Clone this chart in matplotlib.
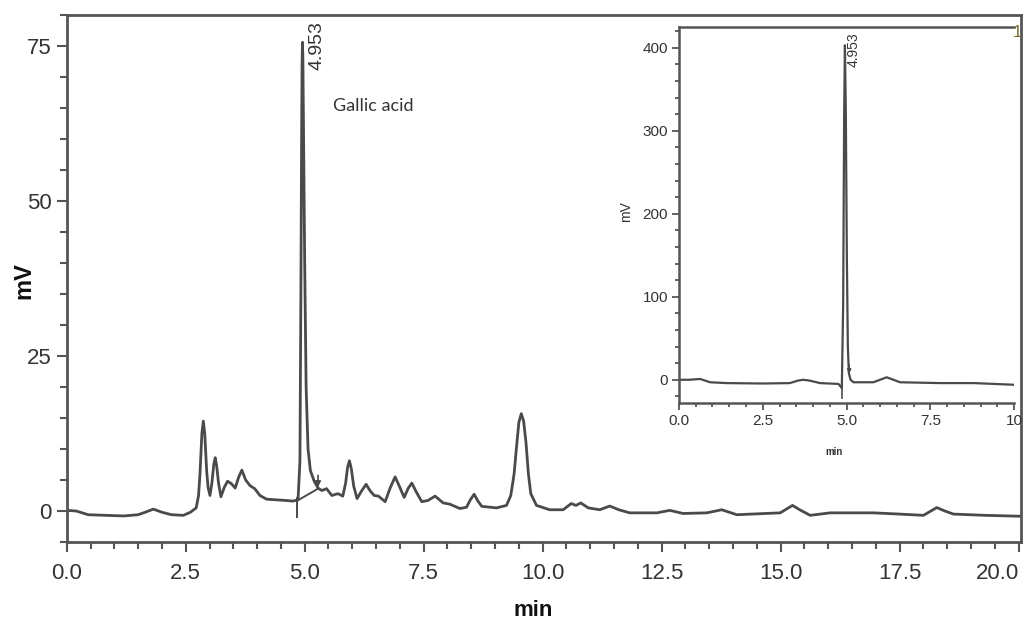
import matplotlib
matplotlib.use('Agg')
import matplotlib.pyplot as plt
from matplotlib.ticker import MultipleLocator

plt.rcParams['font.family'] = ['Liberation Sans', 'DejaVu Sans']

# main chromatogram (min, mV)
time_min = [0.00, 0.20, 0.45, 0.80, 1.20, 1.50, 1.65, 1.82, 2.00, 2.20, 2.45, 2.60, 2.72, 2.77,
            2.80, 2.84, 2.87, 2.90, 2.94, 2.97, 3.01, 3.05, 3.09, 3.12, 3.15, 3.19, 3.24, 3.31,
            3.38, 3.46, 3.54, 3.61, 3.68, 3.76, 3.85, 3.95, 4.06, 4.20, 4.40, 4.60, 4.75, 4.86,
            4.90, 4.92, 4.935, 4.945, 4.953, 4.962, 4.975, 5.00, 5.03, 5.07, 5.12, 5.20, 5.28,
            5.36, 5.46, 5.57, 5.70, 5.80, 5.86, 5.90, 5.94, 5.98, 6.03, 6.10, 6.20, 6.29, 6.38,
            6.46, 6.55, 6.69, 6.80, 6.90, 7.00, 7.09, 7.17, 7.25, 7.35, 7.46, 7.59, 7.74, 7.91,
            8.05, 8.26, 8.40, 8.48, 8.56, 8.64, 8.72, 9.03, 9.24, 9.33, 9.40, 9.45, 9.50, 9.55,
            9.60, 9.65, 9.70, 9.75, 9.87, 10.15, 10.43, 10.60, 10.70, 10.80, 10.96, 11.20,
            11.41, 11.60, 11.83, 12.40, 12.67, 12.95, 13.45, 13.76, 14.08, 14.99, 15.25, 15.40,
            15.62, 16.04, 16.95, 17.50, 18.00, 18.28, 18.45, 18.63, 19.30, 20.05]
signal_mv = [0.1, 0.0, -0.6, -0.7, -0.8, -0.6, -0.2, 0.3, -0.2, -0.6, -0.7, -0.2, 0.5, 2.5,
             6.0, 12.5, 14.5, 12.5, 6.5, 3.8, 2.5, 4.5, 7.5, 8.6, 7.3, 4.5, 2.3, 3.8,
             4.8, 4.4, 3.7, 5.4, 6.6, 5.0, 4.1, 3.6, 2.5, 1.9, 1.8, 1.7, 1.6, 1.8,
             8.0, 35.0, 60.0, 72.0, 75.6, 73.0, 62.0, 40.0, 20.0, 10.0, 6.5, 4.8, 3.7,
             3.3, 3.6, 2.5, 2.8, 2.4, 4.5, 7.0, 8.1, 6.8, 4.0, 2.0, 3.3, 4.3, 3.2,
             2.5, 2.4, 1.5, 3.8, 5.5, 3.8, 2.2, 3.6, 4.5, 3.0, 1.5, 1.7, 2.4, 1.3,
             1.1, 0.4, 0.6, 1.8, 2.7, 1.6, 0.75, 0.5, 0.9, 2.5, 6.0, 10.3, 14.3, 15.7,
             14.5, 11.0, 6.0, 2.8, 0.9, 0.2, 0.2, 1.2, 0.9, 1.3, 0.5, 0.2,
             0.8, 0.2, -0.3, -0.3, 0.1, -0.4, -0.3, 0.2, -0.6, -0.3, 0.9, 0.2,
             -0.7, -0.3, -0.3, -0.5, -0.7, 0.55, 0.0, -0.5, -0.7, -0.85]

# inset: standard injection
std_time = [0.0, 0.30, 0.63, 0.93, 1.42, 2.50, 3.31, 3.55, 3.71, 3.90, 4.21, 4.76, 4.86, 4.90,
            4.93, 4.953, 4.98, 5.01, 5.04, 5.07, 5.12, 5.21, 5.80, 6.00, 6.20, 6.40, 6.60,
            7.80, 8.80, 10.0]
std_mv = [0, 0, 1, -3, -4, -4.5, -4, -1, 0, -1, -4, -5, -10, 90,
          320, 403, 320, 150, 40, 8, 0, -3, -3, 0, 3, 0, -3,
          -4, -4, -6]

peak_label = '4.953'
compound = 'Gallic acid'
x_ticks = [0, 2.5, 5, 7.5, 10, 12.5, 15, 17.5, 20]
x_labels = ['0.0', '2.5', '5.0', '7.5', '10.0', '12.5', '15.0', '17.5', '20.0']
y_ticks = [0, 25, 50, 75]
ins_x_ticks = [0, 2.5, 5, 7.5, 10]
ins_x_labels = ['0.0', '2.5', '5.0', '7.5', '10']
ins_y_ticks = [0, 100, 200, 300, 400]

# integration marks
base_start = [4.83, 1.6]
base_end = [5.28, 3.6]

line_col = '#4a4a4a'
frame_col = '#555555'
text_col = '#333333'

fig = plt.figure(figsize=(10.28, 6.26), dpi=100)
ax = fig.add_axes([0.0649, 0.1342, 0.9283, 0.8418])

ax.plot(time_min, signal_mv, color=line_col, lw=2.0, solid_joinstyle='round')
ax.plot([base_start[0], base_end[0]], [base_start[1], base_end[1]], color=line_col, lw=1.4)
ax.plot([base_start[0], base_start[0]], [-1.0, 2.1], color=line_col, lw=1.4)
ax.annotate('', xy=(base_end[0], base_end[1] - 0.2), xytext=(base_end[0], 6.2),
            arrowprops=dict(arrowstyle='-|>', color=line_col, lw=1.2, mutation_scale=8))

ax.set_xlim(0, 20.05)
ax.set_ylim(-5, 80)
ax.set_xticks(x_ticks)
ax.set_xticklabels(x_labels)
ax.xaxis.set_minor_locator(MultipleLocator(0.5))
ax.set_yticks(y_ticks)
ax.yaxis.set_minor_locator(MultipleLocator(5))
ax.tick_params(which='major', length=7, width=1.5, color=frame_col, labelsize=16,
               labelcolor=text_col, pad=4)
ax.tick_params(which='minor', length=5, width=1.5, color=frame_col)
ax.tick_params(axis='x', which='major', pad=8)
ax.get_xticklabels()[-1].set_ha('right')
for s in ax.spines.values():
    s.set_color(frame_col)
    s.set_linewidth(2)

ax.set_xlabel('min', fontsize=16, fontweight='bold', color='#111111')
ax.xaxis.set_label_coords(0.489, -0.110)
ax.set_ylabel('mV', fontsize=17, fontweight='bold', color='#111111')
ax.yaxis.set_label_coords(-0.033, 0.497)

ax.text(5.26, 79.0, peak_label, rotation=90, ha='center', va='top', fontsize=14,
        color=text_col)
ax.text(5.6, 65.3, compound, ha='left', va='center', fontsize=13,
        family=['Lato', 'DejaVu Sans'], color=text_col)

# inset
ins = fig.add_axes([0.6605, 0.3562, 0.3259, 0.6007])
ins.patch.set_alpha(0)
ins.plot(std_time, std_mv, color=line_col, lw=1.6, solid_joinstyle='round')
ins.plot([4.86, 4.86], [-22, -2], color=line_col, lw=1.2)
ins.annotate('', xy=(5.08, 4), xytext=(5.08, 22),
             arrowprops=dict(arrowstyle='-|>', color=line_col, lw=1.0, mutation_scale=6))
ins.set_xlim(0, 10.0)
ins.set_ylim(-28, 425)
ins.set_xticks(ins_x_ticks)
ins.set_xticklabels(ins_x_labels)
ins.xaxis.set_minor_locator(MultipleLocator(0.5))
ins.set_yticks(ins_y_ticks)
ins.yaxis.set_minor_locator(MultipleLocator(20))
ins.tick_params(which='major', length=5, width=1.3, color=frame_col, labelsize=11,
                labelcolor=text_col, pad=3)
ins.tick_params(which='minor', length=3, width=1.3, color=frame_col)
ins.spines['right'].set_visible(False)
for s in ['left', 'bottom', 'top']:
    ins.spines[s].set_color(frame_col)
    ins.spines[s].set_linewidth(1.8)
ins.set_xlabel('min', fontsize=7, fontweight='bold', color=text_col)
ins.xaxis.set_label_coords(0.463, -0.117)
ins.set_ylabel('mV', fontsize=10, color=text_col)
ins.yaxis.set_label_coords(-0.136, 0.51)
ins.text(5.22, 418, peak_label, rotation=90, ha='center', va='top', fontsize=10,
         color=text_col)
ins.text(1.009, 0.985, '1', transform=ins.transAxes, ha='center', va='center', fontsize=12,
         color='#7a6a2a')

fig.savefig('out.png', dpi=100)
